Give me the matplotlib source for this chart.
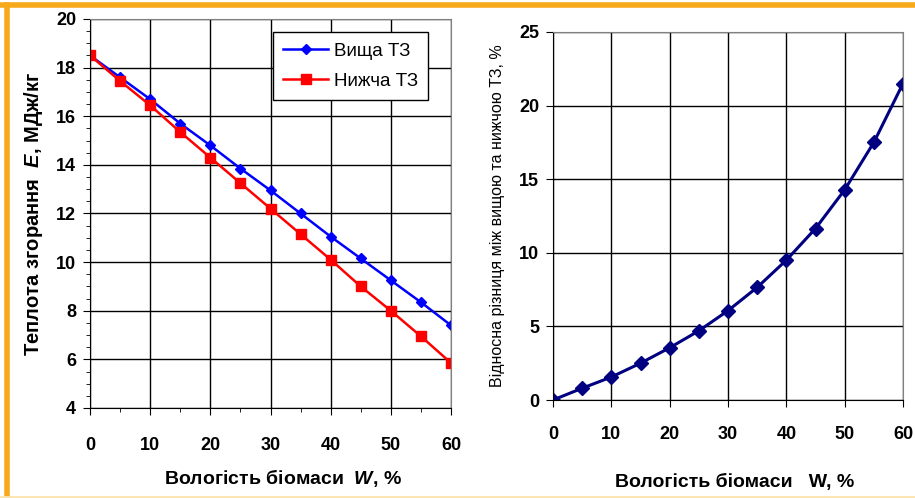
import matplotlib.pyplot as plt
from matplotlib.ticker import MultipleLocator
from matplotlib.lines import Line2D

plt.rcParams['font.family'] = ['Liberation Sans', 'DejaVu Sans']
plt.rcParams['mathtext.fontset'] = 'custom'
plt.rcParams['mathtext.it'] = 'Liberation Sans:italic:bold'
plt.rcParams['mathtext.rm'] = 'Liberation Sans:bold'

# moisture, %
w = [0, 5, 10, 15, 20, 25, 30, 35, 40, 45, 50, 55, 60]
# higher / lower heating value, MJ/kg
e_high = [18.5, 17.6, 16.7, 15.7, 14.8, 13.85, 12.95, 12.0, 11.05, 10.15, 9.25, 8.35, 7.4]
e_low = [18.5, 17.45, 16.45, 15.35, 14.3, 13.25, 12.2, 11.15, 10.1, 9.0, 8.0, 6.95, 5.85]
# relative difference, %
rel_diff = [0, 0.8, 1.56, 2.5, 3.55, 4.7, 6.07, 7.65, 9.5, 11.65, 14.28, 17.5, 21.5]

fig = plt.figure(figsize=(9.15, 4.98), dpi=100)

def style(ax):
    ax.grid(True, which='major', color='black', lw=1)
    ax.set_axisbelow(True)
    ax.spines['left'].set_color('black')
    ax.spines['bottom'].set_color('black')
    ax.spines['top'].set_color('#808080')
    ax.spines['right'].set_color('#808080')
    for t in ax.get_xticklabels() + ax.get_yticklabels():
        t.set_fontweight('bold')
        t.set_fontsize(13)

# left chart
ax1 = fig.add_axes([90/915, 1-408/498, 361/915, 389/498])
ax1.plot(w, e_high, color='#0000FF', lw=1.8, marker='D', ms=5, label='Вища ТЗ')
ax1.plot(w, e_low, color='#FF0000', lw=1.8, marker='s', ms=6.5, label='Нижча ТЗ')
ax1.set_xlim(0, 60)
ax1.set_ylim(4, 20)
ax1.xaxis.set_major_locator(MultipleLocator(10))
ax1.xaxis.set_minor_locator(MultipleLocator(5))
ax1.yaxis.set_major_locator(MultipleLocator(2))
ax1.yaxis.set_minor_locator(MultipleLocator(0.5))
ax1.tick_params(axis='x', which='major', length=5, pad=16)
ax1.tick_params(axis='x', which='minor', length=3)
ax1.tick_params(axis='y', which='major', length=5, pad=5)
ax1.tick_params(axis='y', which='minor', length=3)
style(ax1)
ax1.set_xlabel('Вологість біомаси  $W$, %', fontsize=14, fontweight='bold', labelpad=9)
ax1.xaxis.label.set_x(0.535)
ax1.set_ylabel('Теплота згорання  $E$, МДж/кг', fontsize=14.5, fontweight='bold', labelpad=8)
leg = ax1.legend(loc='upper right', bbox_to_anchor=(0.963, 0.99), fontsize=13.5,
                 fancybox=False, edgecolor='black', framealpha=1, borderpad=0.55,
                 labelspacing=0.7, handlelength=2.4, handletextpad=0.3,
                 borderaxespad=0.5)
leg.get_frame().set_linewidth(1)

# right chart
ax2 = fig.add_axes([553/915, 1-400/498, 350/915, 368/498])
ax2.plot(w, rel_diff, color='#000080', lw=2.2, marker='D', ms=7)
ax2.set_xlim(0, 60)
ax2.set_ylim(0, 25)
ax2.xaxis.set_major_locator(MultipleLocator(10))
ax2.yaxis.set_major_locator(MultipleLocator(5))
ax2.tick_params(axis='x', length=5, pad=14)
ax2.tick_params(axis='y', length=5, pad=5)
style(ax2)
ax2.set_xlabel('Вологість біомаси   W, %', fontsize=14, fontweight='bold', labelpad=22)
ax2.xaxis.label.set_x(0.52)
ax2.set_ylabel('Відносна різниця між вищою та нижчою ТЗ, %', fontsize=11.5, labelpad=10)

# orange frame
fig.add_artist(Line2D([0, 1], [1-5/498, 1-5/498], color='#F7A81B', lw=4, transform=fig.transFigure))
fig.add_artist(Line2D([7/915, 7/915], [0, 1-5/498], color='#F7A81B', lw=4, transform=fig.transFigure))
fig.add_artist(Line2D([0, 1], [1/498, 1/498], color='#FBE3B0', lw=2, transform=fig.transFigure))

fig.savefig('out.png', dpi=100)
